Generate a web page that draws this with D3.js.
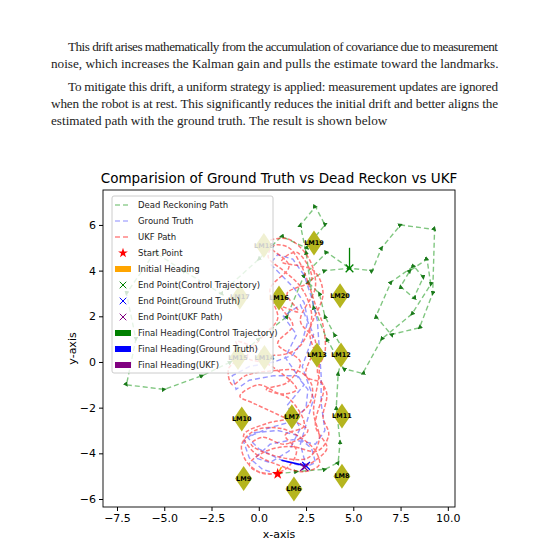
<!DOCTYPE html>
<html><head><meta charset="utf-8">
<script src="https://cdn.jsdelivr.net/npm/d3@7"></script>
<style>body{margin:0;background:#fff}</style>
</head><body>
<svg id="page" width="550" height="550"></svg>
<script>
var paragraphLines = [
  {t: 'This drift arises mathematically from the accumulation of covariance due to measurement', x: 68, y: 51, w: 430},
  {t: 'noise, which increases the Kalman gain and pulls the estimate toward the landmarks.', x: 51, y: 68, w: 0},
  {t: 'To mitigate this drift, a uniform strategy is applied: measurement updates are ignored', x: 68, y: 91, w: 430},
  {t: 'when the robot is at rest. This significantly reduces the initial drift and better aligns the', x: 51, y: 108, w: 447},
  {t: 'estimated path with the ground truth. The result is shown below', x: 51, y: 125, w: 0}
];

var xTicks = [-7.5, -5.0, -2.5, 0.0, 2.5, 5.0, 7.5, 10.0];
var yTicks = [-6, -4, -2, 0, 2, 4, 6];

var landmarks = [
  {id: 'LM6', x: 1.86, y: -5.56}, {id: 'LM7', x: 1.75, y: -2.4},
  {id: 'LM8', x: 4.4, y: -5.0}, {id: 'LM9', x: -0.8, y: -5.1},
  {id: 'LM10', x: -0.9, y: -2.5}, {id: 'LM11', x: 4.4, y: -2.37},
  {id: 'LM12', x: 4.35, y: 0.3}, {id: 'LM13', x: 3.08, y: 0.3},
  {id: 'LM14', x: 0.3, y: 0.2}, {id: 'LM15', x: -1.1, y: 0.2},
  {id: 'LM16', x: 1.07, y: 2.8}, {id: 'LM17', x: -1.0, y: 2.85},
  {id: 'LM18', x: 0.27, y: 5.1}, {id: 'LM19', x: 2.92, y: 5.21},
  {id: 'LM20', x: 4.3, y: 2.9}
];

var groundTruth = [[1,-4.9],[0.2,-4.7],[-0.5,-4.2],[-0.8,-3.5],[-0.3,-3.1],[1,-3],[2,-3.2],[2.8,-3.8],[3,-4.4],
  [2.5,-4.6],[1.2,-4.3],[0,-3.8],[-0.6,-3.3],[0.5,-2.9],[1.8,-2.6],[2.5,-2],[2.6,-1.2],[2,-0.6],[0.8,-0.6],
  [-0.5,-0.8],[-1.2,-1.2],[-1.4,-0.6],[-0.5,-0.2],[0.8,0],[1.8,0.3],[2.3,0.9],[2.6,1.8],[2.4,2.6],[1.9,3.2],
  [1.2,3.8],[0.6,4.3],[1,4.7],[1.8,4.5],[2.4,3.8],[2.8,2.8],[3.1,1.8],[3.2,0.6],[3.3,-0.6],[3.3,-1.8],
  [3.5,-3],[3,-3.6],[1.8,-3.4],[0.6,-3.6],[-0.2,-4.2],[0.6,-4.4],[1.6,-3.9],[2.2,-2.9],[1.5,-1.9],[2.4,-1.0],
  [1.4,0.2],[2.0,1.2],[1.3,2.0],[2.2,2.5],[2.9,1.2],[2.3,-0.2],[2.9,-1.6],[2.2,-3.6],[2.5,-4.55]];

var ukfPath = [[1,-4.9],[0,-4.8],[-0.7,-4.3],[-0.9,-3.6],[-0.2,-3.0],[1.1,-2.9],[2.2,-3.3],[3.0,-3.9],[3.2,-4.5],
  [2.4,-4.8],[1.0,-4.5],[-0.2,-4.0],[-0.8,-3.2],[0.4,-2.7],[1.9,-2.4],[2.7,-1.8],[2.8,-1.0],[2.1,-0.4],
  [0.6,-0.4],[-0.7,-0.6],[-1.4,-1.0],[-1.6,-0.3],[-0.9,0.3],[-1.2,0.9],[-0.4,0.7],[0.7,0.3],[1.9,0.5],
  [2.5,1.1],[2.8,2.0],[2.5,2.9],[2.0,3.5],[1.3,4.0],[0.5,4.6],[0.8,5.1],[1.6,5.0],[2.2,4.3],[2.6,3.5],
  [3.0,2.5],[3.4,1.6],[3.5,0.4],[3.1,-0.4],[3.6,-1.4],[3.4,-2.4],[3.7,-3.2],[3.1,-3.9],[1.7,-3.7],
  [0.4,-3.9],[-0.5,-4.5],[0.3,-4.9],[1.4,-4.7],[2.0,-3.9],[1.4,-3.2],[2.4,-2.8],[1.6,-1.6],[0.4,-1.2],
  [1.5,-0.9],[2.2,0.0],[1.0,0.8],[1.8,1.6],[1.2,2.4],[2.1,2.2],[1.5,3.0],[2.8,3.6],[2.0,4.8],[1.2,4.4],
  [2.9,4.0],[3.4,3.0],[2.7,1.3],[3.2,-0.2],[2.9,-2.2],[3.2,-3.4],[2.6,-4.2],[0.8,-4.1],[-0.4,-3.6],
  [0.2,-3.3],[1.4,-3.6],[2.6,-3.0],[1.0,-2.3],[-0.3,-1.8],[-1.0,-1.5],[0.0,-1.0],[1.2,-1.4],[2.0,-1.2],
  [0.5,-0.1],[-0.6,0.2],[0.3,1.2],[1.0,1.9],[0.6,3.2],[1.6,4.2],[0.4,5.2],[1.5,5.4],[2.6,4.6],[3.0,3.3],
  [2.2,1.8],[3.0,0.9],[2.5,-0.6],[3.4,-1.0],[3.0,-2.8],[3.6,-3.8],[2.4,-4.6]];

var deadReckoning = [[1,-4.9],[2,-4.8],[3.5,-4.7],[4.2,-4.4],[4.3,-3.5],[4.1,-2],[4.2,-0.5],[4.5,0.5],[4,1.2],
  [3.5,2],[3.2,3],[2.6,3.5],[3.5,4],[4.8,4.1],[6,4],[6.5,5],[7.5,6],[9.3,5.8],[9.2,3],[8.5,1.5],[7,1.2],
  [6.2,2],[7,3.5],[8.2,4.2],[8.7,3.7],[8.2,2.8],[7.5,3.3],[8,4],[8.9,4.5],[9.1,3.4],[8.1,2.1],[6.5,1],
  [5.5,-0.5],[4.5,-0.3],[3.6,1],[2.9,2.4],[2.5,4.8],[2.2,6],[3,6.8],[3.5,6],[2.5,5],[1.2,5.5],[0,4.5],
  [-2,3],[-4,4],[-5.5,4.8],[-7,3],[-6.5,1],[-7,-1],[-5,-1.2],[-3,-0.6],[-1.5,0],[0,1],[1.5,2],[2.4,3.8],
  [3.6,4.8],[4.8,4.1]];

var legendItems = [
  {label: 'Dead Reckoning Path', kind: 'line', color: '#2ca02c', op: 0.5},
  {label: 'Ground Truth', kind: 'line', color: '#6666ff', op: 0.5},
  {label: 'UKF Path', kind: 'line', color: '#ff3333', op: 0.6},
  {label: 'Start Point', kind: 'star', color: 'red'},
  {label: 'Initial Heading', kind: 'patch', color: 'orange'},
  {label: 'End Point(Control Trajectory)', kind: 'x', color: 'green'},
  {label: 'End Point(Ground Truth)', kind: 'x', color: 'blue'},
  {label: 'End Point(UKF Path)', kind: 'x', color: 'purple'},
  {label: 'Final Heading(Control Trajectory)', kind: 'patch', color: 'green'},
  {label: 'Final Heading(Ground Truth)', kind: 'patch', color: 'blue'},
  {label: 'Final Heading(UKF)', kind: 'patch', color: 'purple'}
];

var svg = d3.select('#page');

// paragraph text
svg.selectAll('text.para').data(paragraphLines).enter().append('text')
  .attr('class', 'para')
  .attr('x', function(d) { return d.x; })
  .attr('y', function(d) { return d.y; })
  .attr('font-family', 'Liberation Serif, serif')
  .attr('font-size', 13.2)
  .attr('fill', '#222')
  .each(function(d) {
    if (d.w) d3.select(this).attr('textLength', d.w).attr('lengthAdjust', 'spacing');
  })
  .text(function(d) { return d.t; });

var box = {left: 103, top: 190, right: 455, bottom: 507};
var x = d3.scaleLinear().domain([-8.24, 10.38]).range([box.left, box.right]);
var y = d3.scaleLinear().domain([7.53, -6.35]).range([box.top, box.bottom]);

var font = 'DejaVu Sans, sans-serif';
var fmt = function(v) { return d3.format('.1f')(v).replace('-', '\u2212'); };
var fmtY = function(v) { return String(v).replace('-', '\u2212'); };

svg.append('defs').append('clipPath').attr('id', 'clip').append('rect')
  .attr('x', box.left).attr('y', box.top)
  .attr('width', box.right - box.left).attr('height', box.bottom - box.top);
svg.select('defs').append('marker').attr('id', 'garrow')
  .attr('viewBox', '0 0 10 10').attr('refX', 5).attr('refY', 5)
  .attr('markerWidth', 3.5).attr('markerHeight', 3.5).attr('orient', 'auto')
  .append('path').attr('d', 'M0,0L10,5L0,10z').attr('fill', '#1a7a1a');

var plot = svg.append('g').attr('clip-path', 'url(#clip)');
var line = d3.line().x(function(d) { return x(d[0]); }).y(function(d) { return y(d[1]); });

plot.append('path').attr('d', line(deadReckoning)).attr('fill', 'none')
  .attr('stroke', '#2ca02c').attr('stroke-opacity', 0.6).attr('stroke-width', 1.4)
  .attr('stroke-dasharray', '5,3').attr('marker-mid', 'url(#garrow)');
plot.append('path').attr('d', line(groundTruth)).attr('fill', 'none')
  .attr('stroke', '#5555ff').attr('stroke-opacity', 0.6).attr('stroke-width', 1.4)
  .attr('stroke-dasharray', '5,3');
plot.append('path').attr('d', d3.line().curve(d3.curveCatmullRom)
    .x(function(d) { return x(d[0]); }).y(function(d) { return y(d[1]); })(ukfPath))
  .attr('fill', 'none')
  .attr('stroke', '#ff2222').attr('stroke-opacity', 0.6).attr('stroke-width', 1.5)
  .attr('stroke-dasharray', '4,2');

// landmarks
var lm = plot.selectAll('g.lm').data(landmarks).enter().append('g')
  .attr('transform', function(d) { return 'translate(' + x(d.x) + ',' + y(d.y) + ')'; });
lm.append('path').attr('d', 'M0,-12.5L8.5,0L0,12.5L-8.5,0Z').attr('fill', '#b5b51e');
lm.append('text').attr('text-anchor', 'middle').attr('dy', '0.35em')
  .attr('font-family', font).attr('font-size', 6.5).attr('font-weight', 'bold')
  .text(function(d) { return d.id; });

// start, headings, end points
var start = groundTruth[0];
var gtEnd = groundTruth[groundTruth.length - 1];
var ukfEnd = ukfPath[ukfPath.length - 1];
var drEnd = deadReckoning[deadReckoning.length - 1];
plot.append('line').attr('x1', x(gtEnd[0])).attr('y1', y(gtEnd[1]))
  .attr('x2', x(gtEnd[0] - 1.3)).attr('y2', y(gtEnd[1] + 0.25)).attr('stroke', 'blue').attr('stroke-width', 1.6);
plot.append('line').attr('x1', x(drEnd[0])).attr('y1', y(drEnd[1]))
  .attr('x2', x(drEnd[0])).attr('y2', y(drEnd[1] + 0.9)).attr('stroke', 'green').attr('stroke-width', 1.3);
plot.append('line').attr('x1', x(start[0])).attr('y1', y(start[1]))
  .attr('x2', x(start[0] + 0.2)).attr('y2', y(start[1] + 0.3)).attr('stroke', 'orange').attr('stroke-width', 1.5);
plot.append('path').attr('d', d3.symbol(d3.symbolStar, 40)())
  .attr('transform', 'translate(' + x(start[0]) + ',' + y(start[1]) + ')').attr('fill', 'red');
[[drEnd, 'green'], [gtEnd, 'blue'], [ukfEnd, 'purple']].forEach(function(e) {
  plot.append('path').attr('d', d3.symbol(d3.symbolX, 40)())
    .attr('transform', 'translate(' + x(e[0][0]) + ',' + y(e[0][1]) + ')')
    .attr('stroke', e[1]).attr('stroke-width', 1.3).attr('fill', 'none');
});

// frame and axes
svg.append('rect').attr('x', box.left).attr('y', box.top)
  .attr('width', box.right - box.left).attr('height', box.bottom - box.top)
  .attr('fill', 'none').attr('stroke', '#000').attr('stroke-width', 0.9);
var xa = svg.append('g').attr('transform', 'translate(0,' + box.bottom + ')')
  .call(d3.axisBottom(x).tickValues(xTicks).tickFormat(fmt).tickSize(4).tickPadding(3));
var ya = svg.append('g').attr('transform', 'translate(' + box.left + ',0)')
  .call(d3.axisLeft(y).tickValues(yTicks).tickFormat(fmtY).tickSize(4).tickPadding(3));
[xa, ya].forEach(function(a) {
  a.select('.domain').remove();
  a.selectAll('text').attr('font-family', font).attr('font-size', 11).attr('fill', '#000');
});

svg.append('text').attr('x', (box.left + box.right) / 2).attr('y', 183).attr('text-anchor', 'middle')
  .attr('font-family', font).attr('font-size', 13.5).text('Comparision of Ground Truth vs Dead Reckon vs UKF');
svg.append('text').attr('x', (box.left + box.right) / 2).attr('y', 538).attr('text-anchor', 'middle')
  .attr('font-family', font).attr('font-size', 11).text('x-axis');
svg.append('text').attr('transform', 'translate(76,' + (box.top + box.bottom) / 2 + ') rotate(-90)')
  .attr('text-anchor', 'middle').attr('font-family', font).attr('font-size', 11).text('y-axis');

// legend
var lg = svg.append('g').attr('transform', 'translate(112,196)');
lg.append('rect').attr('width', 161).attr('height', 177).attr('rx', 2)
  .attr('fill', '#fff').attr('fill-opacity', 0.8).attr('stroke', '#ccc');
var row = lg.selectAll('g.row').data(legendItems).enter().append('g')
  .attr('transform', function(d, i) { return 'translate(0,' + (9 + i * 16) + ')'; });
row.each(function(d) {
  var g = d3.select(this);
  if (d.kind === 'line') {
    g.append('line').attr('x1', 3).attr('x2', 19).attr('stroke', d.color)
      .attr('stroke-opacity', d.op).attr('stroke-width', 1.3).attr('stroke-dasharray', '5,3');
  } else if (d.kind === 'patch') {
    g.append('rect').attr('x', 3).attr('y', -3).attr('width', 16).attr('height', 6).attr('fill', d.color);
  } else if (d.kind === 'star') {
    g.append('path').attr('d', d3.symbol(d3.symbolStar, 30)()).attr('transform', 'translate(11,0)').attr('fill', d.color);
  } else {
    g.append('path').attr('d', d3.symbol(d3.symbolX, 30)()).attr('transform', 'translate(11,0)')
      .attr('stroke', d.color).attr('stroke-width', 1).attr('fill', 'none');
  }
  g.append('text').attr('x', 26).attr('dy', '0.35em').attr('font-family', font)
    .attr('font-size', 8.5).attr('fill', '#222').text(d.label);
});
</script>
</body></html>
